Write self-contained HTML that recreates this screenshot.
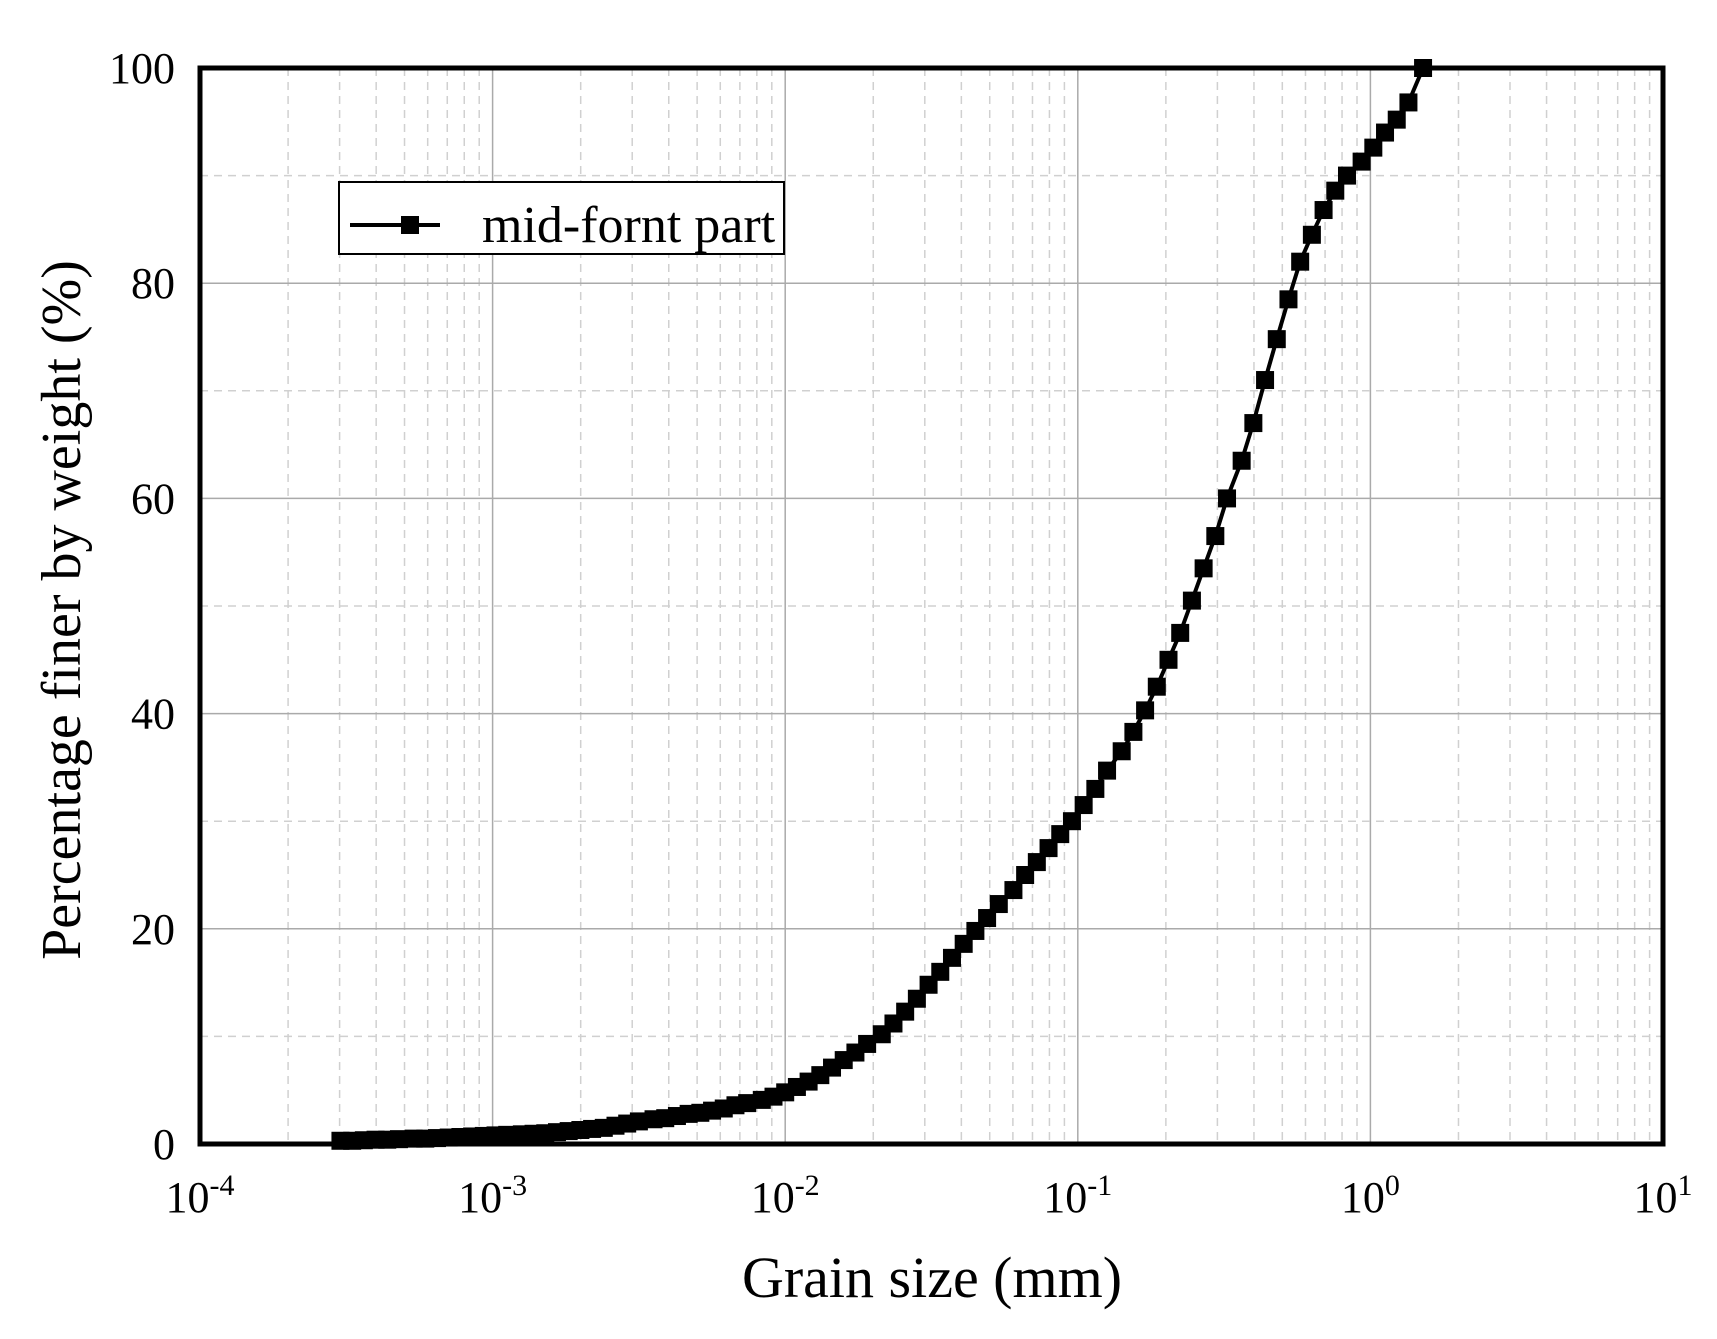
<!DOCTYPE html>
<html><head><meta charset="utf-8"><style>
html,body{margin:0;padding:0;background:#fff;}
svg{display:block;font-family:"Liberation Serif",serif;}
</style></head><body>
<svg id="chart" width="1717" height="1339" viewBox="0 0 1717 1339">
<g id="grid"></g>
<g id="axes"></g>
<g id="series"></g>
<rect x="200" y="68" width="1463" height="1076" fill="none" stroke="#000" stroke-width="5"/>
<g>
<rect x="339" y="182" width="445" height="72" fill="#fff" stroke="#000" stroke-width="2"/>
<line x1="350" y1="225" x2="440" y2="225" stroke="#000" stroke-width="4"/>
<rect x="401" y="216" width="18" height="18" fill="#000"/>
<text x="482" y="242" font-size="52">mid-fornt part</text>
</g>
<text x="932" y="1297" font-size="58" text-anchor="middle">Grain size (mm)</text>
<text transform="translate(80,610) rotate(-90)" font-size="56" text-anchor="middle">Percentage finer by weight (%)</text>
</svg>
<script>
const grainSizeLog=[-3.52,-3.48,-3.44,-3.40,-3.36,-3.32,-3.27,-3.23,-3.19,-3.15,-3.11,-3.07,-3.03,-2.99,-2.95,-2.90,-2.86,-2.82,-2.78,-2.74,-2.70,-2.66,-2.62,-2.58,-2.54,-2.50,-2.45,-2.41,-2.37,-2.33,-2.29,-2.25,-2.21,-2.17,-2.13,-2.08,-2.04,-2.00,-1.96,-1.92,-1.88,-1.84,-1.80,-1.76,-1.72,-1.67,-1.63,-1.59,-1.55,-1.51,-1.47,-1.43,-1.39,-1.35,-1.31,-1.27,-1.22,-1.18,-1.14,-1.10,-1.06,-1.02,-0.98,-0.94,-0.90,-0.85,-0.81,-0.77,-0.73,-0.69,-0.65,-0.61,-0.57,-0.53,-0.49,-0.44,-0.40,-0.36,-0.32,-0.28,-0.24,-0.20,-0.16,-0.12,-0.08,-0.03,0.01,0.05,0.09,0.13,0.18];
const percentFiner=[0.3,0.3,0.35,0.4,0.4,0.45,0.5,0.5,0.55,0.6,0.65,0.7,0.75,0.8,0.85,0.9,0.95,1.0,1.1,1.2,1.3,1.4,1.5,1.7,1.9,2.1,2.3,2.4,2.6,2.8,2.9,3.1,3.3,3.6,3.8,4.1,4.4,4.8,5.3,5.8,6.4,7.1,7.8,8.5,9.3,10.2,11.2,12.3,13.5,14.8,16.0,17.3,18.6,19.8,21.0,22.3,23.6,25.0,26.2,27.5,28.8,30.0,31.5,33.0,34.7,36.5,38.3,40.3,42.5,45.0,47.5,50.5,53.5,56.5,60,63.5,67,71,74.8,78.5,82,84.5,86.8,88.6,90,91.3,92.6,94,95.2,96.8,100];
const xDecades=[-4,-3,-2,-1,0,1];
const yTicks=[0,20,40,60,80,100];
const yMinor=[10,30,50,70,90];

const NS='http://www.w3.org/2000/svg';
const L=200,R=1663,T=68,B=1144;
const xs=lg=>L+(lg-(-4))/5*(R-L);
const ys=v=>B-v/100*(B-T);
function mk(tag,attrs,parent){const e=document.createElementNS(NS,tag);for(const k in attrs)e.setAttribute(k,attrs[k]);parent.appendChild(e);return e;}
const grid=document.getElementById('grid'),axes=document.getElementById('axes'),series=document.getElementById('series');
for(let d=0;d<xDecades.length-1;d++){
  for(let m=2;m<=9;m++){
    const x=xs(xDecades[d]+Math.log10(m));
    const l=mk('line',{x1:x,x2:x,y1:T,y2:B,stroke:'#d0d0d0','stroke-width':1.5,'stroke-dasharray':'8,6'},grid);
    
    
  }
}
xDecades.forEach(p=>{
  const x=xs(p);
  const l=mk('line',{x1:x,x2:x,y1:T,y2:B,stroke:'#aaa','stroke-width':1.5},grid);
  
  
  const t=mk('text',{x:x,y:1212,'font-size':44,'text-anchor':'middle'},axes);
  
  
  t.innerHTML='10<tspan dy="-17" font-size="30">'+p+'</tspan>';
});
yMinor.forEach(v=>{
  const y=ys(v);
  const l=mk('line',{x1:L,x2:R,y1:y,y2:y,stroke:'#d0d0d0','stroke-width':1.5,'stroke-dasharray':'8,6'},grid);
  
  
});
yTicks.forEach(v=>{
  const y=ys(v);
  const l=mk('line',{x1:L,x2:R,y1:y,y2:y,stroke:'#aaa','stroke-width':1.5},grid);
  
  
  const t=mk('text',{x:175,y:y+15,'font-size':44,'text-anchor':'end'},axes);
  
  
  t.textContent=v;
});
const pts=grainSizeLog.map((g,i)=>[xs(g),ys(percentFiner[i])]);
const pl=mk('polyline',{points:pts.map(p=>p.join(',')).join(' '),fill:'none',stroke:'#000','stroke-width':4},series);


pts.forEach(p=>{
  const r=mk('rect',{x:p[0]-9,y:p[1]-9,width:18,height:18,fill:'#000'},series);
  
  
});
</script>
</body></html>
